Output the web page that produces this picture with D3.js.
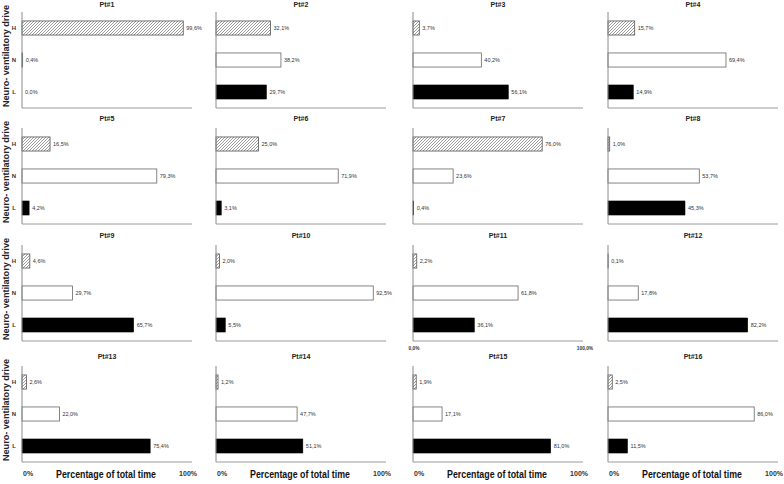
<!DOCTYPE html>
<html><head><meta charset="utf-8">
<script src="https://cdn.jsdelivr.net/npm/d3@7"></script>
<style>body{margin:0;background:#fff}svg{display:block}</style>
</head><body>
<svg id="c" width="784" height="484"></svg>
<script>
const patients = ["Pt#1","Pt#2","Pt#3","Pt#4","Pt#5","Pt#6","Pt#7","Pt#8","Pt#9","Pt#10","Pt#11","Pt#12","Pt#13","Pt#14","Pt#15","Pt#16"];
const categories = ["H","N","L"];
const highValues   = [99.6,32.1,3.7,15.7,16.5,25.0,76.0,1.0,4.6,2.0,2.2,0.1,2.6,1.2,1.9,2.5];
const normalValues = [0.4,38.2,40.2,69.4,79.3,71.9,23.6,53.7,29.7,92.5,61.8,17.8,22.0,47.7,17.1,86.0];
const lowValues    = [0.0,29.7,56.1,14.9,4.2,3.1,0.4,45.3,65.7,5.5,36.1,82.2,75.4,51.1,81.0,11.5];
const axisMax      = [105,100,100,100,100,100,100,100,100,100,100,100,100,100,100,100];
const xTickLabels = ["0%","100%"];
const xTickLabelsAlt = ["0,0%","100,0%"];
const yAxisTitle = "Neuro- ventilatory drive";
const xAxisTitle = "Percentage of total time";

const svg = d3.select("#c");
const defs = svg.append("defs");
const pat = defs.append("pattern").attr("id","hatch").attr("patternUnits","userSpaceOnUse")
  .attr("width",3).attr("height",3);
pat.append("rect").attr("width",3).attr("height",3).attr("fill","#fff");
pat.append("path").attr("d","M-1,1 l2,-2 M0,3 l3,-3 M2,4 l2,-2")
  .attr("stroke","#707070").attr("stroke-width",0.7);

const colX = [22, 216, 413, 608];
const rowY = [0, 116, 233, 354];
const plotW = 170;
const plotTop = 12, plotBottom = 108;
const font = "'Liberation Sans', Arial, sans-serif";

const y = d3.scaleBand().domain(categories).range([plotTop, plotBottom]).paddingInner(0.56).paddingOuter(0.28);
const fmt = v => d3.format(".1f")(v).replace(".", ",") + "%";

patients.forEach((p, i) => {
  const col = i % 4, row = Math.floor(i / 4);
  const x = d3.scaleLinear().domain([0, axisMax[i]]).range([0, plotW]);
  const g = svg.append("g").attr("transform", `translate(${colX[col]},${rowY[row]})`);
  const vals = {H: highValues[i], N: normalValues[i], L: lowValues[i]};

  g.append("text").attr("x", plotW/2).attr("y", row === 0 ? 7 : 5).attr("text-anchor","middle")
    .attr("font-family", font).attr("font-weight","bold").attr("font-size", 7).attr("fill","#222").text(p);

  categories.forEach(c => {
    const w = x(vals[c]);
    const r = g.append("rect").attr("x", 0).attr("y", y(c)).attr("width", w).attr("height", y.bandwidth());
    if (c === "H") r.attr("fill","url(#hatch)").attr("stroke","#555").attr("stroke-width",0.8);
    else if (c === "N") r.attr("fill","#fff").attr("stroke","#666").attr("stroke-width",0.8);
    else r.attr("fill","#000").attr("stroke","#000").attr("stroke-width",0.5);
    if (w === 0) r.attr("stroke","none");
    g.append("text").attr("x", w + 3).attr("y", y(c) + y.bandwidth()/2).attr("dy","0.35em")
      .attr("font-family", font).attr("font-size", 5.5).attr("fill","#333").text(fmt(vals[c]));
  });

  g.append("line").attr("x1",0).attr("x2",0).attr("y1",plotTop).attr("y2",plotBottom)
    .attr("stroke","#8a8a8a").attr("stroke-width",1);
  g.append("line").attr("x1",0).attr("x2",plotW).attr("y1",plotBottom).attr("y2",plotBottom)
    .attr("stroke","#9a9a9a").attr("stroke-width",1);

  if (col === 0) {
    categories.forEach(c => {
      g.append("text").attr("x", -6).attr("y", y(c) + y.bandwidth()/2).attr("dy","0.35em")
        .attr("text-anchor","end").attr("font-family", font).attr("font-weight","bold")
        .attr("font-size", 6).attr("fill","#333").text(c);
    });
    g.append("text").attr("transform", `translate(-13.5,${(plotTop+plotBottom)/2 - 4}) rotate(-90)`)
      .attr("text-anchor","middle").attr("font-family", font).attr("font-weight","bold")
      .attr("font-size", 9.5).attr("textLength", 102).attr("lengthAdjust","spacingAndGlyphs")
      .attr("fill","#222").text(yAxisTitle);
  }

  if (p === "Pt#11") {
    g.append("text").attr("x", 1).attr("y", plotBottom + 9).attr("text-anchor","middle")
      .attr("font-family", font).attr("font-weight","bold").attr("font-size", 4.8).attr("fill","#333").text(xTickLabelsAlt[0]);
    g.append("text").attr("x", plotW + 2).attr("y", plotBottom + 9).attr("text-anchor","middle")
      .attr("font-family", font).attr("font-weight","bold").attr("font-size", 4.8).attr("fill","#333").text(xTickLabelsAlt[1]);
  }

  if (row === 3) {
    g.append("text").attr("x", 1).attr("y", plotBottom + 14).attr("text-anchor","start")
      .attr("font-family", font).attr("font-weight","bold").attr("font-size", 7).attr("fill","#333").text(xTickLabels[0]);
    g.append("text").attr("x", plotW + 5).attr("y", plotBottom + 14).attr("text-anchor","end")
      .attr("font-family", font).attr("font-weight","bold").attr("font-size", 7).attr("fill","#333").text(xTickLabels[1]);
    g.append("text").attr("x", plotW/2 - 1).attr("y", plotBottom + 16).attr("text-anchor","middle")
      .attr("font-family", font).attr("font-weight","bold").attr("font-size", 11)
      .attr("textLength", 100).attr("lengthAdjust","spacingAndGlyphs").attr("fill","#111").text(xAxisTitle);
  }
});
</script>
</body></html>
